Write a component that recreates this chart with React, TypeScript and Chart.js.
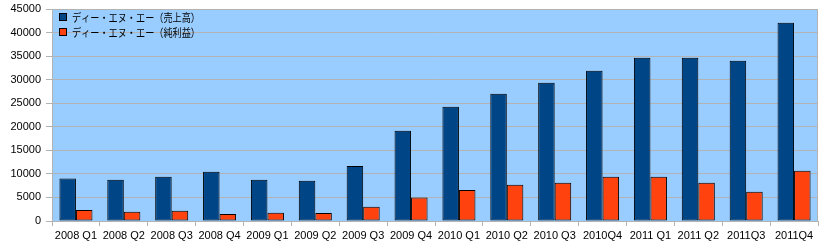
import React, { useEffect, useRef } from "react";
import { Chart, registerables } from "chart.js";

Chart.register(...registerables);

const categories = [
  "2008 Q1", "2008 Q2", "2008 Q3", "2008 Q4",
  "2009 Q1", "2009 Q2", "2009 Q3", "2009 Q4",
  "2010 Q1", "2010 Q2", "2010 Q3", "2010Q4",
  "2011 Q1", "2011 Q2", "2011Q3", "2011Q4",
];
const seriesNames = ["ディー・エヌ・エー（売上高）", "ディー・エヌ・エー（純利益）"];
const sales = [9000, 8750, 9400, 10450, 8750, 8550, 11700, 19150, 24250, 27000, 29350, 31900, 34650, 34650, 34000, 42100];
const profit = [2350, 1950, 2150, 1500, 1750, 1700, 3000, 5000, 6600, 7700, 8100, 9400, 9400, 8100, 6200, 10650];
const yMin = 0;
const yMax = 45000;
const yStep = 5000;

const colors = ["#004586", "#ff420e"];

const areaPlugin = {
  id: "areaPlugin",
  beforeDraw(chart: any) {
    const { ctx, chartArea: a } = chart;
    ctx.save();
    ctx.fillStyle = "#99ccff";
    ctx.fillRect(a.left, a.top, a.right - a.left, a.bottom - a.top);
    ctx.restore();
  },
  afterDraw(chart: any) {
    const { ctx, chartArea: a } = chart;
    ctx.save();
    ctx.strokeStyle = "#b3b3b3";
    ctx.lineWidth = 1;
    ctx.beginPath();
    ctx.moveTo(a.left, a.top + 0.5);
    ctx.lineTo(a.right - 0.5, a.top + 0.5);
    ctx.lineTo(a.right - 0.5, a.bottom);
    ctx.stroke();
    // legend inside the plot area
    const ds = chart.data.datasets;
    ctx.font = "11px 'Noto Sans CJK JP'";
    ctx.textBaseline = "middle";
    ds.forEach((d: any, i: number) => {
      const x = a.left + 7;
      const y = a.top + 4 + i * 15;
      ctx.fillStyle = d.backgroundColor;
      ctx.fillRect(x + 0.5, y + 0.5, 7, 7);
      ctx.strokeStyle = "#000";
      ctx.strokeRect(x + 0.5, y + 0.5, 7, 7);
      ctx.fillStyle = "#000";
      ctx.fillText(d.label, x + 13, y + 4.5, 128);
    });
    ctx.restore();
  },
};

export default function App() {
  const ref = useRef<HTMLCanvasElement>(null);
  useEffect(() => {
    document.body.style.margin = "0";
    const chart = new Chart(ref.current!, {
      type: "bar",
      data: {
        labels: categories,
        datasets: [
          { label: seriesNames[0], data: sales, backgroundColor: colors[0], borderColor: "#000", borderWidth: 1, borderSkipped: false },
          { label: seriesNames[1], data: profit, backgroundColor: colors[1], borderColor: "#000", borderWidth: 1, borderSkipped: false },
        ],
      },
      options: {
        animation: false,
        responsive: false,
        layout: { padding: { top: 9, right: 6, left: 0, bottom: 0 } },
        datasets: { bar: { categoryPercentage: 0.69, barPercentage: 1 } },
        plugins: { legend: { display: false }, tooltip: { enabled: false } },
        scales: {
          x: {
            grid: { offset: true, drawOnChartArea: false, drawTicks: true, tickLength: 5, color: "#b3b3b3" },
            border: { display: true, color: "#b3b3b3" },
            ticks: { color: "#000", font: { family: "'Liberation Sans'", size: 11 }, padding: 3, maxRotation: 0, autoSkip: false },
            afterFit(s: any) { s.height = 29; s.paddingLeft = 0; s.paddingRight = 0; },
          },
          y: {
            min: yMin,
            max: yMax,
            grid: { color: "#b3b3b3", tickLength: 6 },
            border: { display: true, color: "#b3b3b3" },
            ticks: { stepSize: yStep, color: "#000", font: { family: "'Liberation Sans'", size: 11 }, padding: 5, callback: (v: any) => String(v) },
            afterFit(s: any) { s.width = 52; s.paddingTop = 0; s.paddingBottom = 0; },
          },
        },
      },
      plugins: [areaPlugin],
    });
    return () => chart.destroy();
  }, []);
  return <canvas ref={ref} width={824} height={250} style={{ display: "block" }} />;
}
